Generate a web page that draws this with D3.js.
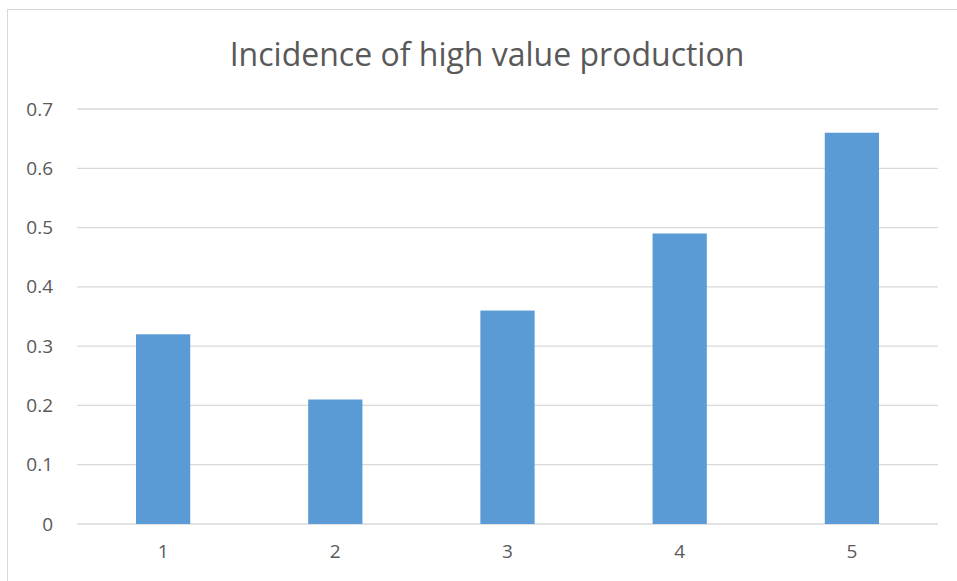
<!DOCTYPE html>
<html>
<head>
<meta charset="utf-8">
<script src="https://cdn.jsdelivr.net/npm/d3@7"></script>
<style>
  body { margin: 0; background: #fff; }
  text { font-family: "Open Sans", "Liberation Sans", sans-serif; fill: #595959; }
</style>
</head>
<body>
<svg width="957" height="581"></svg>
<script>
const categories = ["1", "2", "3", "4", "5"];
const values = [0.32, 0.21, 0.36, 0.49, 0.66];
const yTicks = [0, 0.1, 0.2, 0.3, 0.4, 0.5, 0.6, 0.7];

let svg = d3.select("svg"),
    margin = {top: 109, bottom: 57, left: 77, right: 19},
    width = svg.attr("width") - margin.left - margin.right,
    height = svg.attr("height") - margin.top - margin.bottom;

// chart area border
svg.append("rect")
    .attr("x", 7.5).attr("y", 9.5)
    .attr("width", 960).attr("height", 590)
    .attr("fill", "none")
    .attr("stroke", "#d9d9d9");

svg.append("text")
    .attr("x", 487)
    .attr("y", 66)
    .attr("text-anchor", "middle")
    .attr("font-size", "32px")
    .text("Incidence of high value production");

let g = svg.append("g")
    .attr("transform", "translate(" + margin.left + "," + margin.top + ")");

let xScale = d3.scaleBand()
    .domain(categories)
    .range([0, width])
    .paddingInner(0.685)
    .paddingOuter(0.3425);
let yScale = d3.scaleLinear()
    .domain([0, 0.7])
    .range([height, 0]);

// gridlines
g.selectAll("line.grid")
    .data(yTicks)
    .join("line")
    .attr("class", "grid")
    .attr("x1", 0).attr("x2", width)
    .attr("y1", d => yScale(d)).attr("y2", d => yScale(d))
    .attr("stroke", "#d9d9d9")
    .attr("stroke-width", 1.3);

g.selectAll("rect.bar")
    .data(values)
    .join("rect")
    .attr("class", "bar")
    .attr("x", (d, i) => xScale(categories[i]))
    .attr("y", d => yScale(d))
    .attr("width", xScale.bandwidth())
    .attr("height", d => height - yScale(d))
    .attr("fill", "#5b9bd5");

let yAxis = g.append("g")
    .call(d3.axisLeft(yScale).tickValues(yTicks).tickFormat(d3.format("")).tickSize(0).tickPadding(24));
yAxis.select(".domain").remove();
yAxis.selectAll("text").attr("font-size", "19px").attr("fill", "#595959")
    .style("font-family", "'Open Sans', sans-serif");

let xAxis = g.append("g")
    .attr("transform", "translate(0," + height + ")")
    .call(d3.axisBottom(xScale).tickSize(0).tickPadding(21));
xAxis.select(".domain").remove();
xAxis.selectAll("text").attr("font-size", "19px").attr("fill", "#595959")
    .style("font-family", "'Open Sans', sans-serif");
</script>
</body>
</html>
